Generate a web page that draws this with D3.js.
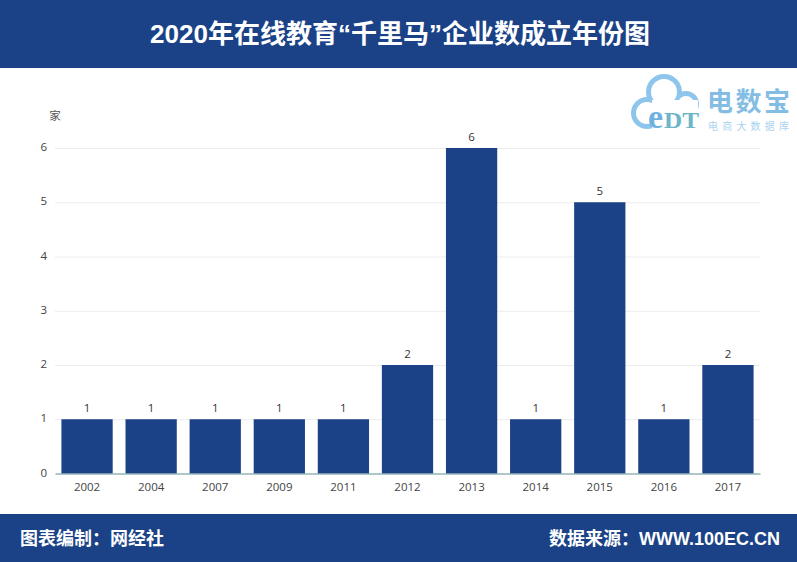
<!DOCTYPE html>
<html><head><meta charset="utf-8">
<script src="https://cdn.jsdelivr.net/npm/d3@7/dist/d3.min.js"></script>
<style>html,body{margin:0;padding:0;background:#fff}svg{display:block}</style>
</head><body><svg id="c" width="797" height="562"></svg>
<script>
const years = ["2002","2004","2007","2009","2011","2012","2013","2014","2015","2016","2017"];
const counts = [1,1,1,1,1,2,6,1,5,1,2];
const yTicks = [0,1,2,3,4,5,6];
const titleText = "2020年在线教育“千里马”企业数成立年份图";
const footLeft = "图表编制：网经社";
const footRight = "数据来源：WWW.100EC.CN";
const unit = "家";
const blue = "#1b4287";
const cjk = "'Liberation Sans','Noto Sans CJK SC',sans-serif";
const svg = d3.select("#c");
const W=797,H=562;
svg.append("rect").attr("width",W).attr("height",68).attr("fill",blue);
svg.append("rect").attr("y",514).attr("width",W).attr("height",48).attr("fill",blue);
svg.append("text").attr("x",400).attr("y",43).attr("text-anchor","middle").attr("fill","#fff")
  .attr("font-family",cjk).attr("font-weight",700).attr("font-size",26).text(titleText);
svg.append("text").attr("x",20).attr("y",545).attr("fill","#fff").attr("font-family",cjk)
  .attr("font-weight",700).attr("font-size",18).text(footLeft);
svg.append("text").attr("x",780).attr("y",545).attr("text-anchor","end").attr("fill","#fff").attr("font-family",cjk)
  .attr("font-weight",700).attr("font-size",18).text(footRight);

const x = d3.scaleBand().domain(years).range([55,760]).paddingInner(0.2).paddingOuter(0.1);
const y = d3.scaleLinear().domain([0,6]).range([473.5,148]);
const font="'Open Sans',sans-serif";

const gy = svg.append("g").attr("transform","translate(55,0)")
  .call(d3.axisLeft(y).tickValues(yTicks).tickSize(0).tickPadding(8).tickFormat(d3.format("d")));
gy.select(".domain").remove();
gy.selectAll("text").attr("font-family",font).attr("font-size",11.5).attr("fill","#444").attr("dy","0.22em");
gy.selectAll("line").attr("x2",705).attr("stroke",d=>d===0?"none":"#ececec").attr("stroke-width",1);

svg.selectAll("rect.bar").data(counts).join("rect").attr("class","bar")
  .attr("x",(d,i)=>x(years[i])).attr("width",x.bandwidth())
  .attr("y",d=>y(d)).attr("height",d=>y(0)-y(d)).attr("fill",blue);

svg.selectAll("text.val").data(counts).join("text").attr("class","val")
  .attr("x",(d,i)=>x(years[i])+x.bandwidth()/2).attr("y",d=>y(d)-7)
  .attr("text-anchor","middle").attr("font-family",font).attr("font-size",11.5).attr("fill","#333").text(d=>d);

const gx = svg.append("g").attr("transform",`translate(0,${y(0)})`)
  .call(d3.axisBottom(x).tickSize(0).tickPadding(9));
gx.select(".domain").attr("stroke","#5f8f96").attr("stroke-width",1);
gx.selectAll("text").attr("font-family",font).attr("font-size",11.5).attr("fill","#444");

svg.append("text").attr("x",55).attr("y",120).attr("text-anchor","middle")
  .attr("font-family",cjk).attr("font-size",11.5).attr("fill","#555").text(unit);

// watermark logo
const logo = svg.append("g");
const lobes = [[647,113,16],[664,92,18],[686,104,13]];
logo.selectAll("circle.o").data(lobes).join("circle").attr("class","o")
  .attr("cx",d=>d[0]).attr("cy",d=>d[1]).attr("r",d=>d[2]).attr("fill","#8ec5ec");
logo.selectAll("circle.i").data(lobes).join("circle").attr("class","i")
  .attr("cx",d=>d[0]).attr("cy",d=>d[1]).attr("r",d=>d[2]-5).attr("fill","#fff");
logo.append("rect").attr("x",652).attr("y",100).attr("width",46).attr("height",30).attr("fill","#fff");
logo.append("text").attr("x",648).attr("y",128).attr("font-family","'Liberation Serif',serif").attr("font-weight",700).attr("font-size",34)
  .attr("fill","#6fb1e0").text("e");
logo.append("text").attr("x",664).attr("y",128).attr("font-family","'Liberation Serif',serif").attr("font-weight",700).attr("font-size",24)
  .attr("textLength",35).attr("lengthAdjust","spacingAndGlyphs").attr("fill","#6fb5c8").text("DT");
logo.append("text").attr("x",707).attr("y",111).attr("font-family",cjk).attr("font-weight",700).attr("font-size",26)
  .attr("textLength",83).attr("fill","#84bde3").text("电数宝");
logo.append("text").attr("x",708).attr("y",130).attr("font-family",cjk).attr("font-size",10)
  .attr("textLength",81).attr("fill","#a9d3ef").text("电商大数据库");
</script></body></html>
